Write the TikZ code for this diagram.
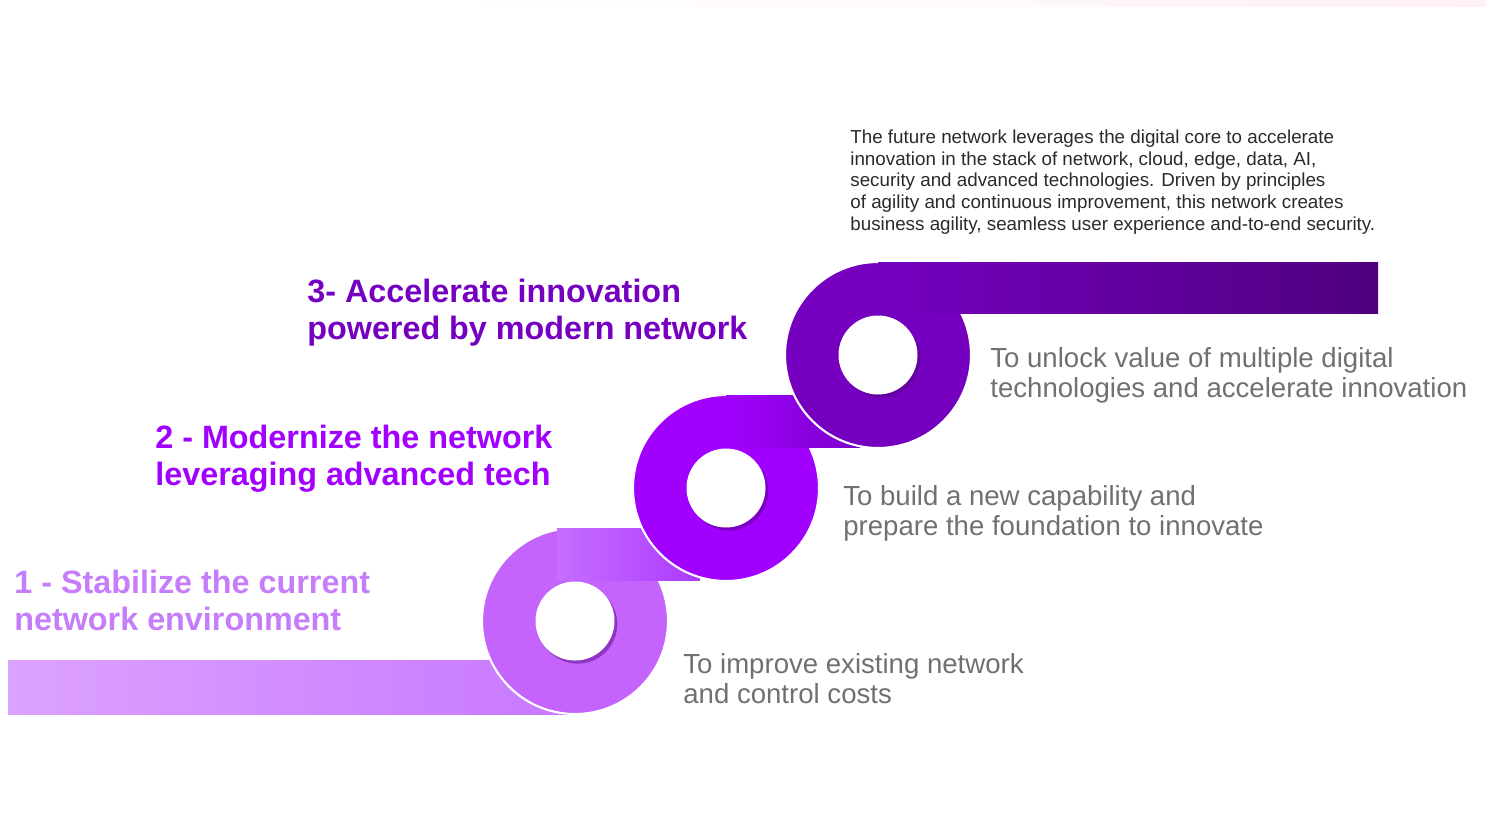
\documentclass[tikz,border=0pt]{standalone}
\usepackage{fontspec}
\setmainfont{Liberation Sans}
\usepackage{xcolor}
\usepackage{tikz}
\usetikzlibrary{shadows}

\definecolor{stepone}{RGB}{196,100,252}
\definecolor{steptwo}{RGB}{161,0,255}
\definecolor{stepthree}{RGB}{117,0,192}
\definecolor{stepdeep}{RGB}{78,0,126}
\definecolor{headone}{RGB}{197,125,250}
\definecolor{goalgray}{RGB}{112,112,112}
\definecolor{notegray}{RGB}{42,42,42}

\begin{document}
\begin{tikzpicture}[x=0.02cm,y=-0.02cm]
\tikzstyle{every node}+=[inner sep=0pt]
\tikzstyle{headline}=[anchor=base west, align=left, font=\fontsize{18.4}{21}\selectfont\bfseries]
\tikzstyle{goalline}=[anchor=base west, align=left, text=goalgray, font=\fontsize{15.7}{17}\selectfont]
\tikzstyle{ring}=[draw=white, line width=1.2pt]
\tikzstyle{hole}=[fill=white, drop shadow={shadow xshift=1.6pt, shadow yshift=-1.8pt, fill=stepdeep, opacity=0.45}]
\useasboundingbox (0,0) rectangle (1486,812);
% faint strip along the top
\shade [left color=white, right color={rgb,255:red,255;green,240;blue,246}] (450,0) rectangle (1486,6);
% step 1
\shade [left color={rgb,255:red,220;green,162;blue,255}, right color={rgb,255:red,200;green,120;blue,255}] (8,660) rectangle (575,714);
\draw [ring, fill=stepone] (575,621) circle (93);
\shade [left color={rgb,255:red,198;green,110;blue,255}, right color={rgb,255:red,172;green,58;blue,255}] (557,528) rectangle (700,580);
% step 2
\draw [ring, fill=steptwo] (726,488) circle (93);
\shade [left color=steptwo, right color={rgb,255:red,122;green,0;blue,200}] (726,395) rectangle (860,447);
% step 3
\draw [ring, fill=stepthree] (878,355) circle (93);
\shade [left color=stepthree, right color=stepdeep] (878,262) rectangle (1378,313);
% holes
\fill [hole] (575,621) circle (39.5);
\fill [hole] (726,488) circle (39.5);
\fill [hole] (878,355) circle (39.5);
% headings (placed by the baseline of the last line)
\node [headline, text=headone] (headone) at (14,630) {1 - Stabilize the current\\network environment};
\node [headline, text=steptwo] (headtwo) at (155,485) {2 - Modernize the network\\leveraging advanced tech};
\node [headline, text=stepthree] (headthree) at (307,339) {3- Accelerate innovation\\powered by modern network};
% goals
\node [goalline] (goalone) at (683,703) {To improve existing network\\and control costs};
\node [goalline] (goaltwo) at (843,535) {To build a new capability and\\prepare the foundation to innovate};
\node [goalline] (goalthree) at (990,397) {To unlock value of multiple digital\\technologies and accelerate innovation};
% note on the future network
\node [anchor=base west, align=left, text=notegray, font=\fontsize{10.7}{12.3}\selectfont] (futurenote) at (850,230) {The future network leverages the digital core to accelerate\\innovation in the stack of network, cloud, edge, data, AI,\\security and advanced technologies. Driven by principles\\of agility and continuous improvement, this network creates\\business agility, seamless user experience and-to-end security.};
\end{tikzpicture}
\end{document}
